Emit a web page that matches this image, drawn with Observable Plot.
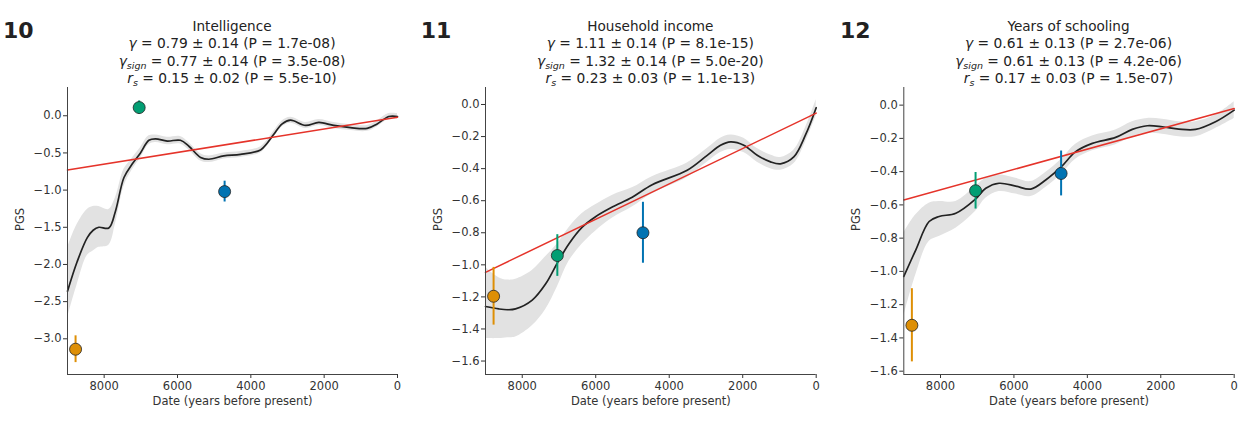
<!DOCTYPE html>
<html><head><meta charset="utf-8">
<script src="https://cdn.jsdelivr.net/npm/d3@7"></script>
<script src="https://cdn.jsdelivr.net/npm/@observablehq/plot@0.6"></script>
<style>
body{margin:0;background:#fff;font-family:"DejaVu Sans",sans-serif;}
#wrap{position:relative;width:1247px;height:425px;overflow:hidden;background:#fff;}
.panel{position:absolute;top:0;}
.num{position:absolute;top:20.4px;font-weight:bold;font-size:22px;line-height:22px;color:#222;}
.title{position:absolute;top:17.8px;text-align:center;font-size:13.6px;line-height:17.4px;color:#222;white-space:nowrap;transform:translateX(-50%);}
.title .stat{font-size:13.8px;}
.title sub{font-size:9.5px;line-height:0;vertical-align:-3px;font-style:italic;}
.title .g{font-style:italic;}
</style></head><body><div id="wrap"></div>
<script>
// ---------- text ----------
const panelNumbers = ["10", "11", "12"];
const traitNames = ["Intelligence", "Household income", "Years of schooling"];
const gammaText = ["0.79 ± 0.14 (P = 1.7e-08)", "1.11 ± 0.14 (P = 8.1e-15)", "0.61 ± 0.13 (P = 2.7e-06)"];
const gammaSignText = ["0.77 ± 0.14 (P = 3.5e-08)", "1.32 ± 0.14 (P = 5.0e-20)", "0.61 ± 0.13 (P = 4.2e-06)"];
const rsText = ["0.15 ± 0.02 (P = 5.5e-10)", "0.23 ± 0.03 (P = 1.1e-13)", "0.17 ± 0.03 (P = 1.5e-07)"];
const xLabel = "Date (years before present)";
const yLabel = "PGS";

// ---------- axes ----------
const xDomain = [9000, 0];
const xTicks = [8000, 6000, 4000, 2000, 0];
const yDomain1 = [-3.48, 0.38];
const yTicks1 = [-3.0, -2.5, -2.0, -1.5, -1.0, -0.5, 0.0];
const yDomain2 = [-1.684, 0.106];
const yTicks2 = [-1.6, -1.4, -1.2, -1.0, -0.8, -0.6, -0.4, -0.2, 0.0];
const yDomain3 = [-1.62, 0.106];
const yTicks3 = [-1.6, -1.4, -1.2, -1.0, -0.8, -0.6, -0.4, -0.2, 0.0];

// ---------- smoothed trajectories ----------
const curveYears1 = [9000, 8735, 8460, 8300, 8145, 7873, 7690, 7460, 7236, 7010, 6780, 6600, 6280, 5920, 5690, 5370, 5145, 4736, 4282, 3736, 3555, 3373, 3145, 2918, 2509, 2145, 1736, 1282, 827, 555, 236, 0];
const curveMean1 = [-2.36, -1.96, -1.64, -1.54, -1.50, -1.51, -1.28, -0.83, -0.65, -0.50, -0.33, -0.31, -0.34, -0.33, -0.41, -0.56, -0.585, -0.54, -0.52, -0.46, -0.37, -0.25, -0.11, -0.06, -0.13, -0.09, -0.13, -0.16, -0.17, -0.11, -0.01, -0.01];
const curveHi1 = [-1.78, -1.46, -1.26, -1.22, -1.22, -1.26, -1.10, -0.72, -0.57, -0.43, -0.27, -0.26, -0.29, -0.28, -0.36, -0.51, -0.54, -0.50, -0.48, -0.42, -0.33, -0.21, -0.07, -0.02, -0.09, -0.05, -0.09, -0.12, -0.13, -0.07, 0.03, 0.03];
const curveLo1 = [-2.72, -2.27, -1.88, -1.82, -1.77, -1.74, -1.45, -0.95, -0.73, -0.57, -0.39, -0.36, -0.39, -0.38, -0.46, -0.61, -0.63, -0.58, -0.56, -0.50, -0.41, -0.29, -0.15, -0.10, -0.17, -0.13, -0.17, -0.20, -0.21, -0.15, -0.05, -0.05];

const curveYears2 = [9000, 8637, 8400, 8182, 7728, 7366, 7048, 6732, 6367, 6005, 5551, 5007, 4463, 3510, 2966, 2604, 2332, 1970, 1605, 1243, 971, 610, 291, 0];
const curveMean2 = [-1.26, -1.275, -1.28, -1.275, -1.22, -1.12, -0.99, -0.87, -0.765, -0.70, -0.64, -0.578, -0.50, -0.41, -0.317, -0.254, -0.233, -0.254, -0.317, -0.358, -0.37, -0.327, -0.19, -0.02];
const curveHi2 = [-1.015, -1.08, -1.095, -1.09, -1.035, -0.95, -0.87, -0.77, -0.68, -0.625, -0.567, -0.52, -0.45, -0.365, -0.275, -0.21, -0.19, -0.21, -0.275, -0.315, -0.33, -0.285, -0.145, 0.03];
const curveLo2 = [-1.46, -1.46, -1.455, -1.45, -1.38, -1.28, -1.14, -0.98, -0.87, -0.79, -0.71, -0.64, -0.556, -0.455, -0.36, -0.30, -0.28, -0.30, -0.36, -0.40, -0.41, -0.37, -0.235, -0.07];

const curveYears3 = [9000, 8672, 8310, 8038, 7583, 7048, 6767, 6405, 5950, 5543, 5135, 4707, 4318, 3864, 3230, 2776, 2367, 1959, 1507, 1053, 509, 0];
const curveMean3 = [-1.03, -0.87, -0.70, -0.67, -0.65, -0.565, -0.50, -0.47, -0.487, -0.505, -0.45, -0.37, -0.28, -0.23, -0.194, -0.146, -0.124, -0.13, -0.144, -0.146, -0.10, -0.03];
const curveHi3 = [-0.77, -0.66, -0.59, -0.58, -0.58, -0.49, -0.44, -0.42, -0.44, -0.46, -0.405, -0.325, -0.235, -0.185, -0.15, -0.10, -0.08, -0.085, -0.10, -0.10, -0.06, 0.02];
const curveLo3 = [-1.27, -1.02, -0.82, -0.79, -0.74, -0.64, -0.56, -0.52, -0.535, -0.55, -0.495, -0.415, -0.325, -0.275, -0.238, -0.19, -0.168, -0.175, -0.19, -0.19, -0.14, -0.08];

// ---------- period points ----------
const pointYears = [8780, 7045, 4715];
const pointColors = ["#DE8F05", "#029E73", "#0173B2"];
const pointMean1 = [-3.14, 0.11, -1.02];
const pointErr1 = [0.18, 0.09, 0.14];
const pointMean2 = [-1.196, -0.942, -0.80];
const pointErr2 = [0.18, 0.13, 0.19];
const pointMean3 = [-1.324, -0.515, -0.411];
const pointErr3 = [0.22, 0.11, 0.135];

// ---------- linear fits ----------
const fitYears = [9000, 0];
const fitValues1 = [-0.73, -0.02];
const fitValues2 = [-1.047, -0.054];
const fitValues3 = [-0.57, -0.02];

// ---------- assemble ----------
const panels = [
  {years: curveYears1, mean: curveMean1, hi: curveHi1, lo: curveLo1, pm: pointMean1, pe: pointErr1, fit: fitValues1, yDomain: yDomain1, yTicks: yTicks1,
   left: 0, width: 415, ml: 67, mr: 18, labelDx: 47},
  {years: curveYears2, mean: curveMean2, hi: curveHi2, lo: curveLo2, pm: pointMean2, pe: pointErr2, fit: fitValues2, yDomain: yDomain2, yTicks: yTicks2,
   left: 415, width: 415, ml: 70, mr: 14.3, labelDx: 46.7},
  {years: curveYears3, mean: curveMean3, hi: curveHi3, lo: curveLo3, pm: pointMean3, pe: pointErr3, fit: fitValues3, yDomain: yDomain3, yTicks: yTicks3,
   left: 830, width: 417, ml: 73.3, mr: 13.3, labelDx: 47.6}
];
const numLeft = [3, 420.7, 840];

const wrap = document.getElementById("wrap");

panels.forEach((p, i) => {
  const curve = p.years.map((y, k) => ({year: y, mean: p.mean[k], hi: p.hi[k], lo: p.lo[k]}));
  const pts = pointYears.map((y, k) => ({year: y, v: p.pm[k], e: p.pe[k], color: pointColors[k]}));
  const fit = fitYears.map((y, k) => ({year: y, v: p.fit[k]}));

  const chart = Plot.plot({
    width: p.width,
    height: 425,
    marginTop: 87,
    marginBottom: 51,
    marginLeft: p.ml,
    marginRight: p.mr,
    x: {domain: xDomain},
    y: {domain: p.yDomain},
    color: {type: "identity"},
    style: {fontFamily: "DejaVu Sans", fontSize: "11.5px", color: "#333", background: "transparent", overflow: "visible"},
    marks: [
      Plot.areaY(curve, {x: "year", y1: "lo", y2: "hi", fill: "#e2e2e2", curve: "catmull-rom"}),
      Plot.line(curve, {x: "year", y: "mean", stroke: "#222", strokeWidth: 1.7, curve: "catmull-rom"}),
      Plot.line(fit, {x: "year", y: "v", stroke: "#e5332a", strokeWidth: 1.5}),
      Plot.ruleX(pts, {x: "year", y1: d => d.v - d.e, y2: d => d.v + d.e, stroke: "color", strokeWidth: 2}),
      Plot.dot(pts, {x: "year", y: "v", r: 6, fill: "color", stroke: "#222", strokeWidth: 0.8}),
      Plot.axisX({ticks: xTicks, tickFormat: d3.format("d"), tickSize: 4, tickPadding: 3, label: null}),
      Plot.axisY({ticks: p.yTicks, tickFormat: d3.format(".1f"), tickSize: 4, tickPadding: 2, label: null}),
      Plot.ruleX([xDomain[0]], {stroke: "#444", strokeWidth: 1}),
      Plot.ruleY([p.yDomain[0]], {stroke: "#444", strokeWidth: 1}),
      Plot.text([yLabel], {frameAnchor: "left", dx: -p.labelDx, rotate: -90, fontSize: 11.5, fill: "#333"}),
      Plot.text([xLabel], {frameAnchor: "bottom", dy: 30, fontSize: 11.5, fill: "#333"})
    ]
  });

  const div = document.createElement("div");
  div.className = "panel";
  div.style.left = p.left + "px";
  div.appendChild(chart);
  wrap.appendChild(div);

  const num = document.createElement("div");
  num.className = "num";
  num.style.left = numLeft[i] + "px";
  num.textContent = panelNumbers[i];
  wrap.appendChild(num);

  const t = document.createElement("div");
  t.className = "title";
  const plotLeft = p.left + p.ml;
  const plotRight = p.left + p.width - p.mr;
  t.style.left = ((plotLeft + plotRight) / 2) + "px";
  t.innerHTML = traitNames[i] +
    "<br><span class='stat'><span class='g'>γ</span> = " + gammaText[i] + "</span>" +
    "<br><span class='stat'><span class='g'>γ</span><sub>sign</sub> = " + gammaSignText[i] + "</span>" +
    "<br><span class='stat'><i>r</i><sub>s</sub> = " + rsText[i] + "</span>";
  wrap.appendChild(t);
});
</script>
</body></html>
